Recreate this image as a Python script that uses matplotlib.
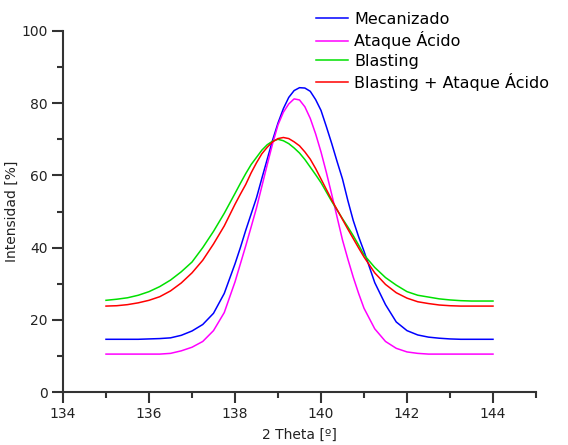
import matplotlib.pyplot as plt
from matplotlib.ticker import MultipleLocator, FixedLocator

theta = [135.0, 135.25, 135.5, 135.75, 136.0, 136.25, 136.5, 136.75, 137.0, 137.25, 137.5, 137.75,
         138.0, 138.125, 138.25, 138.375, 138.5, 138.625, 138.75, 138.875, 139.0, 139.125,
         139.25, 139.375, 139.5, 139.625, 139.75, 139.875, 140.0, 140.125, 140.25, 140.375,
         140.5, 140.625, 140.75, 140.875, 141.0,
         141.25, 141.5, 141.75, 142.0, 142.25, 142.5, 142.75, 143.0, 143.25, 143.5, 143.75, 144.0]

mecanizado = [14.6, 14.6, 14.6, 14.6, 14.7, 14.8, 15.0, 15.7, 16.9, 18.7, 21.8, 27.3,
              35.5, 40.0, 44.8, 49.3, 53.8, 59.2, 64.5, 69.8, 74.5, 78.5,
              81.6, 83.5, 84.3, 84.2, 83.3, 81.0, 78.0, 73.5, 68.8, 63.8,
              59.0, 53.0, 47.5, 43.0, 39.0,
              30.3, 24.2, 19.4, 17.0, 15.8, 15.2, 14.9, 14.7, 14.6, 14.6, 14.6, 14.6]

ataque = [10.5, 10.5, 10.5, 10.5, 10.5, 10.5, 10.7, 11.4, 12.4, 14.0, 17.0, 22.0,
          30.5, 35.5, 40.5, 45.7, 51.0, 57.0, 63.0, 68.8, 74.0, 77.5,
          79.8, 81.2, 80.9, 79.0, 75.8, 71.5, 66.5, 60.8, 54.7, 48.4,
          42.1, 36.8, 31.8, 27.3, 23.2,
          17.5, 14.0, 12.1, 11.1, 10.7, 10.5, 10.5, 10.5, 10.5, 10.5, 10.5, 10.5]

blasting = [25.4, 25.7, 26.1, 26.8, 27.8, 29.2, 31.0, 33.3, 36.0, 40.0, 44.5, 49.5,
            55.0, 57.8, 60.5, 63.0, 65.0, 67.0, 68.5, 69.5, 70.0, 69.6,
            68.8, 67.6, 66.2, 64.4, 62.3, 60.2, 58.0, 55.4, 52.8, 50.4,
            48.0, 45.7, 43.3, 40.7, 38.0,
            34.5, 31.7, 29.6, 27.8, 26.8, 26.3, 25.8, 25.5, 25.3, 25.2, 25.2, 25.2]

blasting_ataque = [23.8, 23.9, 24.2, 24.7, 25.4, 26.4, 28.0, 30.2, 33.0, 36.5, 41.0, 46.0,
                   52.0, 54.8, 57.5, 60.7, 63.5, 66.0, 67.8, 69.3, 70.2, 70.5,
                   70.2, 69.3, 68.2, 66.5, 64.5, 61.9, 59.0, 56.1, 53.2, 50.5,
                   47.8, 45.1, 42.5, 39.9, 37.4,
                   33.0, 29.8, 27.5, 26.0, 25.0, 24.5, 24.1, 23.9, 23.8, 23.8, 23.8, 23.8]

labels = ['Mecanizado', 'Ataque Ácido', 'Blasting', 'Blasting + Ataque Ácido']
colors = ['#0000ff', '#ff00ff', '#00e000', '#ff0000']

fig = plt.figure(figsize=(5.68, 4.45), dpi=100)
ax = fig.add_axes([63/568, 1 - 392/445, (536 - 63)/568, (392 - 31)/445])

for serie, lab, col in zip([mecanizado, ataque, blasting, blasting_ataque], labels, colors):
    ax.plot(theta, serie, color=col, linewidth=1.1, label=lab)

ax.set_xlim(134, 145)
ax.set_ylim(0, 100)
ax.xaxis.set_major_locator(FixedLocator([134, 136, 138, 140, 142, 144]))
ax.xaxis.set_minor_locator(FixedLocator([135, 137, 139, 141, 143, 145]))
ax.yaxis.set_major_locator(MultipleLocator(20))
ax.yaxis.set_minor_locator(MultipleLocator(10))

for s in ['top', 'right']:
    ax.spines[s].set_visible(False)
for s in ['left', 'bottom']:
    ax.spines[s].set_color('#333333')
    ax.spines[s].set_linewidth(1.5)
ax.tick_params(which='major', direction='out', length=8, width=1.5, color='#333333',
               labelsize=10, labelcolor='#222222', pad=3)
ax.tick_params(which='minor', direction='out', length=4.5, width=1.5, color='#333333')

ax.set_xlabel('2 Theta [º]', fontsize=10, color='#222222', labelpad=5)
ax.set_ylabel('Intensidad [%]', fontsize=10, color='#222222', labelpad=2)

fig.legend(loc='upper left', bbox_to_anchor=(316/568, 1 - 12/445), frameon=False,
           fontsize=11.5, labelspacing=0.27, handlelength=2.0, handletextpad=0.4,
           borderpad=0, borderaxespad=0)

plt.savefig('out.png', dpi=100)
